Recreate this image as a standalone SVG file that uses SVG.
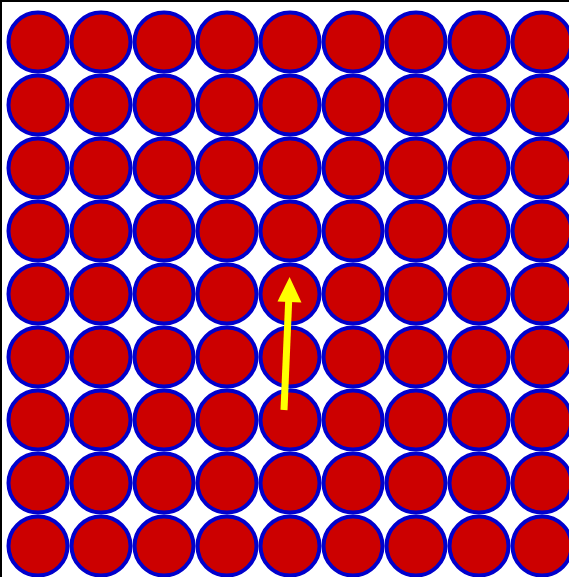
<svg xmlns="http://www.w3.org/2000/svg" xmlns:xlink="http://www.w3.org/1999/xlink" width="569" height="577" viewBox="0 0 569 577">
<style>
.c{fill:#cc0000;stroke:#0000cc;stroke-width:4}
.arr{stroke:#ffff00;stroke-width:7;fill:none}
.head{fill:#ffff00}
</style>
<defs>
<circle id="dot" class="c" r="29.5"/>
<g id="row">
<use xlink:href="#dot" x="38"/><use xlink:href="#dot" x="101"/><use xlink:href="#dot" x="164"/><use xlink:href="#dot" x="227"/><use xlink:href="#dot" x="290"/><use xlink:href="#dot" x="353"/><use xlink:href="#dot" x="416"/><use xlink:href="#dot" x="479"/><use xlink:href="#dot" x="542"/>
</g>
</defs>
<rect width="569" height="577" fill="#ffffff"/>
<g id="lattice">
<use xlink:href="#row" y="42"/>
<use xlink:href="#row" y="105"/>
<use xlink:href="#row" y="168"/>
<use xlink:href="#row" y="231"/>
<use xlink:href="#row" y="294"/>
<use xlink:href="#row" y="357"/>
<use xlink:href="#row" y="420"/>
<use xlink:href="#row" y="483"/>
<use xlink:href="#row" y="546"/>
</g>
<g id="arrow">
<line class="arr" x1="284" y1="410" x2="288.8" y2="298"/>
<polygon class="head" points="289.6,277 277.5,301.5 301.5,302.5"/>
</g>
<g id="frame">
<rect x="0" y="0" width="569" height="2" fill="#000000"/>
<rect x="0" y="0" width="2" height="577" fill="#000000"/>
</g>
</svg>
